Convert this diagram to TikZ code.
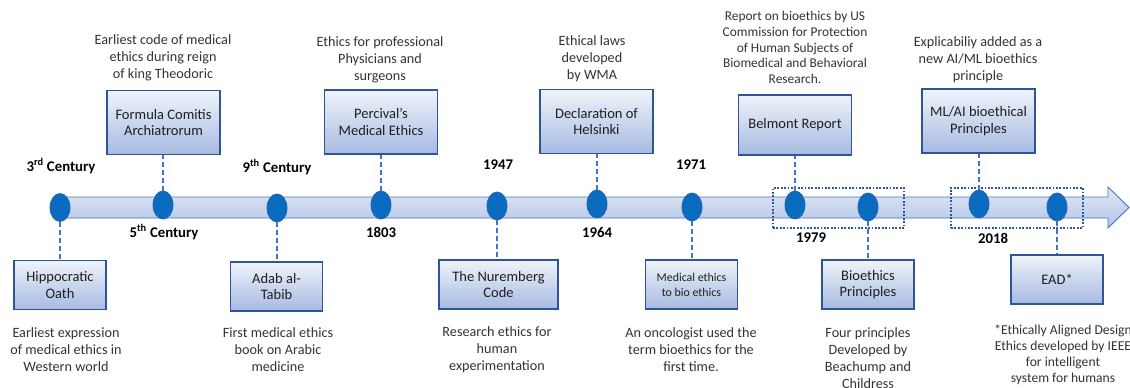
\documentclass[tikz,border=0pt]{standalone}
\usepackage{fontspec}
\setmainfont{Carlito}
\usetikzlibrary{shapes.geometric}

\definecolor{boxedge}{HTML}{2F5597}
\definecolor{boxtop}{HTML}{F0F3FA}
\definecolor{boxbot}{HTML}{A6BAE2}
\definecolor{dotfill}{HTML}{0A6CC0}
\definecolor{dotedge}{HTML}{2A64AE}
\definecolor{linkcol}{HTML}{4472C4}
\definecolor{shafttop}{HTML}{E2E9F6}
\definecolor{shaftbot}{HTML}{B0C3E6}
\definecolor{desccol}{HTML}{333333}
\definecolor{boxtext}{HTML}{1F1F1F}

\tikzset{
  eventbox/.style={draw=boxedge, line width=1.8pt, top color=boxtop, bottom color=boxbot,
    align=center, inner sep=2pt, text=boxtext, font=\fontsize{14.5}{16.5}\selectfont},
  topbox/.style={eventbox, minimum width=113pt, minimum height=64pt},
  lowbox/.style={eventbox, minimum width=92pt, minimum height=49pt},
  stamp/.style={ellipse, draw=dotedge, fill=dotfill, line width=0.8pt,
    minimum width=20pt, minimum height=28pt, inner sep=0pt},
  link/.style={draw=linkcol, line width=1.8pt, dash pattern=on 5pt off 3pt},
  yearlabel/.style={font=\bfseries\fontsize{14.8}{17}\selectfont, text=black, inner sep=0pt},
  desc/.style={align=center, text=desccol, inner sep=0pt, font=\fontsize{14.2}{17}\selectfont},
  groupframe/.style={draw=boxedge, line width=1.8pt, dash pattern=on 1.8pt off 1.6pt,
    rectangle, inner sep=0pt}
}

\begin{document}
\begin{tikzpicture}[x=1pt, y=-1pt]
  \useasboundingbox (0,0) rectangle (1130,388);
  \clip (0,0) rectangle (1130,388);

  % timeline arrow
  \path[draw=linkcol, line width=0.9pt, top color=shafttop, bottom color=shaftbot]
    (58,197) -- (1108,197) -- (1108,187) -- (1129,207.5) -- (1108,228)
    -- (1108,218) -- (58,218) -- cycle;

  % grouping frames
  \node[groupframe, minimum width=131pt, minimum height=40pt] (frameA) at (838.5,208) {};
  \node[groupframe, minimum width=132pt, minimum height=40pt] (frameB) at (1017,208) {};

  % milestones on the timeline
  \node[stamp] (d1)  at (60,207.5) {};
  \node[stamp] (d2)  at (163,205) {};
  \node[stamp] (d3)  at (277,208) {};
  \node[stamp] (d4)  at (381,205) {};
  \node[stamp] (d5)  at (497,206) {};
  \node[stamp] (d6)  at (597,204) {};
  \node[stamp] (d7)  at (692,207) {};
  \node[stamp] (d8)  at (795,205) {};
  \node[stamp] (d9)  at (868,207) {};
  \node[stamp] (d10) at (979,204) {};
  \node[stamp] (d11) at (1057,207) {};

  % event boxes above the line
  \node[topbox] (b2)  at (163.5,122.5) {Formula Comitis\\Archiatrorum};
  \node[topbox] (b4)  at (381,122) {Percival’s\\Medical Ethics};
  \node[topbox] (b6)  at (596.5,121.5) {Declaration of\\Helsinki};
  \node[topbox, minimum height=60pt] (b8) at (795,125) {Belmont Report};
  \node[topbox] (b10) at (978.5,121) {ML/AI bioethical\\Principles};

  % event boxes below the line
  \node[lowbox] (b1)  at (60,285) {Hippocratic\\Oath};
  \node[lowbox] (b3)  at (276.5,286.5) {Adab al-\\Tabib};
  \node[lowbox, minimum width=119pt] (b5) at (498.5,284.5) {The Nuremberg\\Code};
  \node[lowbox, font=\fontsize{11.9}{15}\selectfont] (b7) at (691.5,284.5) {Medical ethics\\to bio ethics};
  \node[lowbox] (b9)  at (868,284.5) {Bioethics\\Principles};
  \node[lowbox] (b11) at (1057,279.5) {EAD*};

  % dashed links from milestones to boxes
  \foreach \d/\b in {d2/b2, d4/b4, d6/b6, d8/b8, d10/b10}
    \draw[link] (\d.north) -- (\d.north |- \b.south);
  \foreach \d/\b in {d1/b1, d3/b3, d5/b5, d7/b7, d9/b9, d11/b11}
    \draw[link] (\d.south) -- (\d.south |- \b.north);

  % dates
  \node[yearlabel] (y1)  at (61,166) {3\textsuperscript{rd} Century};
  \node[yearlabel] (y2)  at (164,232) {5\textsuperscript{th} Century};
  \node[yearlabel] (y3)  at (277,167) {9\textsuperscript{th} Century};
  \node[yearlabel] (y4)  at (381,232) {1803};
  \node[yearlabel] (y5)  at (498,165) {1947};
  \node[yearlabel] (y6)  at (597,232) {1964};
  \node[yearlabel] (y7)  at (691,165) {1971};
  \node[yearlabel] (y8)  at (811,238) {1979};
  \node[yearlabel] (y9)  at (993,238) {2018};

  % descriptions above
  \node[desc] (t2)  at (163,58) {Earliest code of medical\\ethics during reign\\of king Theodoric};
  \node[desc] (t4)  at (380,60) {Ethics for professional\\Physicians and\\surgeons};
  \node[desc] (t6)  at (592,59) {Ethical laws\\developed\\by WMA};
  \node[desc, font=\fontsize{13.4}{15.8}\selectfont] (t8) at (795,47.5)
    {Report on bioethics by US\\Commission for Protection\\of Human Subjects of\\Biomedical and Behavioral\\Research.};
  \node[desc] (t10) at (978,60) {Explicabiliy added as a\\new AI/ML bioethics\\principle};

  % descriptions below
  \node[desc] (t1)  at (66,350) {Earliest expression\\of medical ethics in\\Western world};
  \node[desc] (t3)  at (278,350) {First medical ethics\\book on Arabic\\medicine};
  \node[desc] (t5)  at (497,350) {Research ethics for\\human\\experimentation};
  \node[desc] (t7)  at (691,350) {An oncologist used the\\term bioethics for the\\first time.};
  \node[desc] (t9)  at (868,358) {Four principles\\Developed by\\Beachump and\\Childress};
  \node[desc, font=\fontsize{13.6}{16}\selectfont] (t11) at (1063,355)
    {*Ethically Aligned Design\\Ethics developed by IEEE\\for intelligent\\system for humans};
\end{tikzpicture}
\end{document}
